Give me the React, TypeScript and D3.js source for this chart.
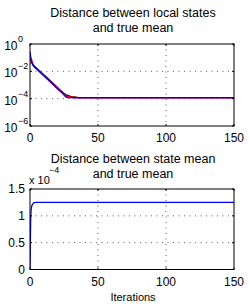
import React from "react";
import * as d3 from "d3";

const xTicks = [0, 50, 100, 150];
const logTicksExp = [0, -2, -4, -6];
const linTicks = [0, 0.5, 1, 1.5];

const iters1 = [0, 1, 2, 3, 5, 8, 12, 16, 20, 24, 27, 29, 31, 34, 38, 45, 150];
const blueLocal = [0.28, 0.063, 0.032, 0.022, 0.0145, 0.0076, 0.0032, 0.00135, 0.00056, 0.00024, 0.000126, 0.000119, 0.000118, 0.000118, 0.000118, 0.000118, 0.000118];
const blackLocal = [0.12, 0.05, 0.035, 0.025, 0.0165, 0.0088, 0.0038, 0.0016, 0.00068, 0.00029, 0.00018, 0.000155, 0.000137, 0.000126, 0.00012, 0.000118, 0.000118];
const brownLocal = [0.04, 0.045, 0.033, 0.024, 0.016, 0.0086, 0.0037, 0.00158, 0.00066, 0.00028, 0.000172, 0.00015, 0.000134, 0.000125, 0.00012, 0.000118, 0.000118];
const redLocal = [0.07, 0.08, 0.035, 0.024, 0.0152, 0.008, 0.0034, 0.00145, 0.0006, 0.00026, 0.000155, 0.000135, 0.000126, 0.000121, 0.000119, 0.000118, 0.000118];
const magentaLocal = [0.1, 0.055, 0.03, 0.023, 0.015, 0.0079, 0.0033, 0.0014, 0.00059, 0.00025, 0.00014, 0.000128, 0.000122, 0.000119, 0.000118, 0.000118, 0.000118];

const iters2 = [0, 0.5, 1, 2, 3, 5, 150];
const meanDist = [0, 0.9, 1.15, 1.22, 1.245, 1.25, 1.25]; // x 1e-4

const seriesLocal = [
  { color: "#a0522d", values: brownLocal },
  { color: "#000000", values: blackLocal },
  { color: "#ff00ff", values: magentaLocal },
  { color: "#ff0000", values: redLocal },
  { color: "#0000ff", values: blueLocal },
];

const FONT = "'Liberation Sans', Arial, Helvetica, sans-serif";

export default function App() {
  const L = 30, R = 234;
  const t1 = 44, b1 = 126;
  const t2 = 189, b2 = 269.5;
  const x = d3.scaleLinear().domain([0, 150]).range([L, R]);
  const y1 = d3.scaleLog().domain([1e-6, 1]).range([b1, t1]);
  const y2 = d3.scaleLinear().domain([0, 1.5]).range([b2, t2]);

  const line1 = d3
    .line<number>()
    .x((_, i) => x(iters1[i]))
    .y((d) => y1(d))
    .curve(d3.curveMonotoneX);
  const line2 = d3
    .line<number>()
    .x((_, i) => x(iters2[i]))
    .y((d) => y2(d))
    .curve(d3.curveMonotoneX);

  const grid = { stroke: "#333", strokeWidth: 0.8, strokeDasharray: "1,4.5" };

  return (
    <svg
      width={249}
      height={304}
      style={{ position: "absolute", left: 0, top: 0, background: "#fff" }}
      fontFamily={FONT}
    >
      <defs>
        <clipPath id="c1">
          <rect x={L} y={t1} width={R - L} height={b1 - t1} />
        </clipPath>
        <clipPath id="c2">
          <rect x={L} y={t2} width={R - L} height={b2 - t2} />
        </clipPath>
      </defs>
      {/* Titles */}
      <text x={133} y={17} fontSize={12.5} textAnchor="middle">Distance between local states</text>
      <text x={133} y={32} fontSize={12.5} textAnchor="middle">and true mean</text>
      <text x={133} y={162.5} fontSize={12.5} textAnchor="middle">Distance between state mean</text>
      <text x={133} y={177.5} fontSize={12.5} textAnchor="middle">and true mean</text>

      {/* Plot 1 grid */}
      {xTicks.slice(1, -1).map((t) => (
        <line key={"gx1" + t} x1={x(t)} x2={x(t)} y1={t1} y2={b1} {...grid} />
      ))}
      {logTicksExp.slice(1, -1).map((e) => (
        <line key={"gy1" + e} x1={L} x2={R} y1={y1(Math.pow(10, e))} y2={y1(Math.pow(10, e))} {...grid} />
      ))}
      <g clipPath="url(#c1)">
        {seriesLocal.map((s, i) => (
          <path key={i} d={line1(s.values) || ""} fill="none" stroke={s.color} strokeWidth={1.3} />
        ))}
      </g>
      <rect x={L} y={t1} width={R - L} height={b1 - t1} fill="none" stroke="#000" strokeWidth={1} />
      {xTicks.map((t) => (
        <g key={"xt1" + t}>
          <line x1={x(t)} x2={x(t)} y1={b1} y2={b1 - 2} stroke="#000" />
          <line x1={x(t)} x2={x(t)} y1={t1} y2={t1 + 2} stroke="#000" />
          <text x={x(t)} y={142} fontSize={12} textAnchor="middle">{t}</text>
        </g>
      ))}
      {logTicksExp.map((e) => {
        const yy = y1(Math.pow(10, e));
        return (
          <g key={"yt1" + e}>
            <line x1={L} x2={L + 2} y1={yy} y2={yy} stroke="#000" />
            <line x1={R} x2={R - 2} y1={yy} y2={yy} stroke="#000" />
            <text x={17.5} y={yy + 6} fontSize={12} textAnchor="end">10</text>
            <text x={18} y={yy - 2} fontSize={9} textAnchor="start">{e === 0 ? "0" : "\u2212" + Math.abs(e)}</text>
          </g>
        );
      })}

      {/* Plot 2 grid */}
      {xTicks.slice(1, -1).map((t) => (
        <line key={"gx2" + t} x1={x(t)} x2={x(t)} y1={t2} y2={b2} {...grid} />
      ))}
      {linTicks.slice(1, -1).map((v) => (
        <line key={"gy2" + v} x1={L} x2={R} y1={y2(v)} y2={y2(v)} {...grid} />
      ))}
      <g clipPath="url(#c2)">
        <path d={line2(meanDist) || ""} fill="none" stroke="#0000ff" strokeWidth={1.3} />
      </g>
      <rect x={L} y={t2} width={R - L} height={b2 - t2} fill="none" stroke="#000" strokeWidth={1} />
      {xTicks.map((t) => (
        <g key={"xt2" + t}>
          <line x1={x(t)} x2={x(t)} y1={b2} y2={b2 - 2} stroke="#000" />
          <line x1={x(t)} x2={x(t)} y1={t2} y2={t2 + 2} stroke="#000" />
          <text x={x(t)} y={286} fontSize={12} textAnchor="middle">{t}</text>
        </g>
      ))}
      {linTicks.map((v) => (
        <g key={"yt2" + v}>
          <line x1={L} x2={L + 2} y1={y2(v)} y2={y2(v)} stroke="#000" />
          <line x1={R} x2={R - 2} y1={y2(v)} y2={y2(v)} stroke="#000" />
          <text x={25} y={y2(v) + 4} fontSize={12} textAnchor="end">{v}</text>
        </g>
      ))}
      <text x={29} y={184} fontSize={11}>x 10</text>
      <text x={49} y={173} fontSize={9}>{"\u22124"}</text>
      <text x={133} y={301} fontSize={11} textAnchor="middle">Iterations</text>
    </svg>
  );
}
